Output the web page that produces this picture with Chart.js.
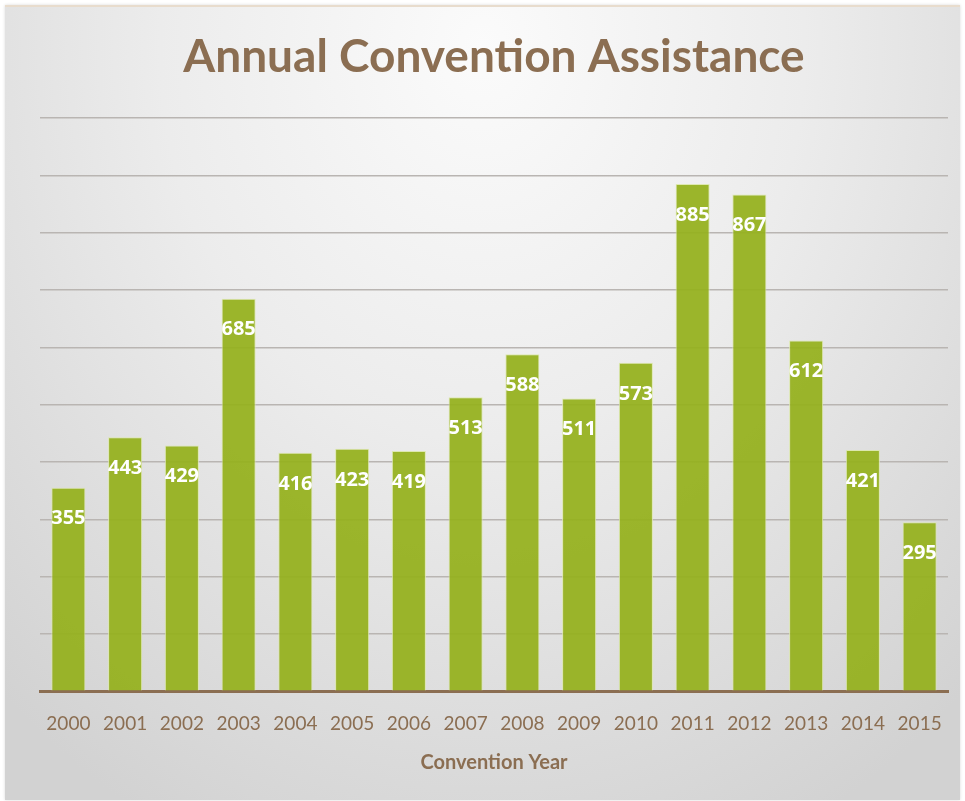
<!DOCTYPE html>
<html>
<head>
<meta charset="utf-8">
<script src="https://cdn.jsdelivr.net/npm/chart.js@4.4.1/dist/chart.umd.min.js"></script>
<style>
  html, body { margin: 0; padding: 0; background: #ffffff; }
  #frame {
    position: absolute; left: 5px; top: 5px; width: 955px; height: 793px;
    background: radial-gradient(ellipse 75% 110% at 50% 5%, #fbfbfb 0%, #ececec 45%, #d2d2d2 100%);
    border-top: 2px solid #e8dccd;
    box-shadow: 0 0 3px rgba(0,0,0,0.15);
  }
  #wrap { position: absolute; left: 0; top: 0; width: 965px; height: 801px; }
</style>
</head>
<body>
<div id="frame"></div>
<div id="wrap"><canvas id="grafica"></canvas></div>
<script>
const years = ['2000', '2001', '2002', '2003', '2004', '2005', '2006', '2007',
               '2008', '2009', '2010', '2011', '2012', '2013', '2014', '2015'];
const attendance = [355, 443, 429, 685, 416, 423, 419, 513,
                    588, 511, 573, 885, 867, 612, 421, 295];
const yMax = 1000;
const yStep = 100;

const brown = '#8b6e52';

// etiquetas blancas dentro de cada barra
const labelPlugin = {
    id: 'barLabels',
    afterDatasetsDraw(chart) {
        const ctx = chart.ctx;
        const meta = chart.getDatasetMeta(0);
        ctx.save();
        ctx.fillStyle = '#ffffff';
        ctx.font = 'bold 20px "Open Sans", sans-serif';
        ctx.textAlign = 'center';
        ctx.textBaseline = 'middle';
        meta.data.forEach((bar, i) => {
            ctx.fillText(String(attendance[i]), bar.x, bar.y + 31);
        });
        ctx.restore();
    }
};

const ctx = document.getElementById('grafica');
new Chart(ctx, {
    type: 'bar',
    data: {
        labels: years,
        datasets: [{
            label: 'Assistance',
            data: attendance,
            backgroundColor: 'rgba(148, 176, 28, 0.93)',
            borderColor: 'rgba(220, 232, 170, 0.9)',
            borderWidth: 1,
            borderSkipped: 'bottom',
            barPercentage: 0.6,
            categoryPercentage: 1.0
        }]
    },
    options: {
        responsive: true,
        maintainAspectRatio: false,
        animation: false,
        layout: { padding: { left: 40, right: 17, top: 30, bottom: 26 } },
        plugins: {
            legend: { display: false },
            tooltip: { enabled: false },
            title: {
                display: true,
                text: 'Annual Convention Assistance',
                color: brown,
                font: { family: 'Lato', size: 46, weight: 'bold' },
                padding: { top: 0, bottom: 33 }
            }
        },
        scales: {
            x: {
                grid: { display: false },
                border: { display: true, color: brown, width: 3 },
                ticks: {
                    color: brown,
                    font: { family: 'Lato', size: 19 },
                    padding: 13,
                    maxRotation: 0
                },
                title: {
                    display: true,
                    text: 'Convention Year',
                    color: brown,
                    font: { family: 'Lato', size: 20, weight: 'bold' },
                    padding: { top: 3, bottom: 0 }
                }
            },
            y: {
                min: 0,
                max: yMax,
                ticks: { display: false, stepSize: yStep },
                grid: { color: '#b9b5b2', lineWidth: 1.6, drawTicks: false },
                border: { display: false }
            }
        }
    },
    plugins: [labelPlugin]
});
</script>
</body>
</html>
